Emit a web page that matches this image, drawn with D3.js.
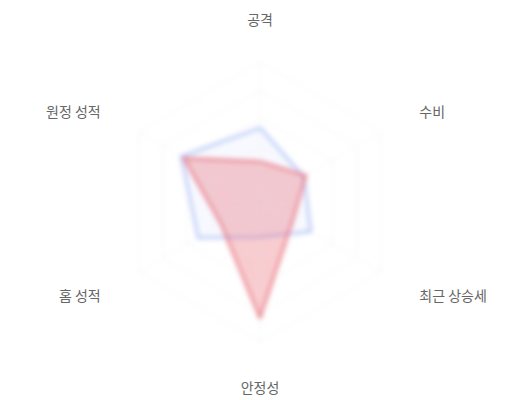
<!DOCTYPE html>
<html>
<head>
<meta charset="utf-8">
<script src="https://cdn.jsdelivr.net/npm/d3@7"></script>
<style>
  body { margin: 0; background: #fff; }
  svg { display: block; }
</style>
</head>
<body>
<svg id="chart" width="520" height="400"></svg>
<script>
// axes, clockwise from the top
const axes = ["공격", "수비", "최근 상승세", "안정성", "홈 성적", "원정 성적"];
const blueValues = [53, 36, 42, 25, 51, 65];
const redValues = [29, 38, 27, 83, 32, 63];
const levels = [20, 40, 60, 80, 100];

function drawRadar() {
    const svg = d3.select("#chart");
    const cx = 260, cy = 202, R = 140, labelR = 184;

    const r = d3.scaleLinear().domain([0, 100]).range([0, R]);
    const angle = d3.scaleLinear().domain([0, axes.length]).range([0, 2 * Math.PI]);

    // the marks in the picture look soft, so blur them a little
    svg.append("defs")
        .append("filter")
        .attr("id", "soft")
        .attr("x", "-20%").attr("y", "-20%")
        .attr("width", "140%").attr("height", "140%")
        .append("feGaussianBlur")
        .attr("stdDeviation", 2.4);

    const g = svg.append("g").attr("transform", `translate(${cx}, ${cy})`);
    const plot = g.append("g").attr("filter", "url(#soft)");

    const radial = d3.lineRadial()
        .angle((d, i) => angle(i))
        .radius((d) => r(d))
        .curve(d3.curveLinearClosed);

    // grid rings
    plot.selectAll(".ring")
        .data(levels)
        .join("path")
        .attr("class", "ring")
        .attr("fill", "none")
        .attr("stroke", "#e6e8ef")
        .attr("stroke-width", 1)
        .attr("stroke-dasharray", "3,3")
        .attr("d", (lv) => radial(axes.map(() => lv)));

    // spokes
    plot.selectAll(".spoke")
        .data(axes)
        .join("line")
        .attr("class", "spoke")
        .attr("x1", 0).attr("y1", 0)
        .attr("x2", (d, i) => r(100) * Math.sin(angle(i)))
        .attr("y2", (d, i) => -r(100) * Math.cos(angle(i)))
        .attr("stroke", "#eceef3")
        .attr("stroke-width", 1)
        .attr("stroke-dasharray", "3,3");

    const series = [
        {name: "blue", values: blueValues, stroke: "#8aa6f2", fill: "rgba(127,157,240,0.06)", sOp: 0.55},
        {name: "red", values: redValues, stroke: "#e66a75", fill: "rgba(232,96,110,0.32)", sOp: 0.7}
    ];

    plot.selectAll(".area")
        .data(series)
        .join("path")
        .attr("class", "area")
        .attr("fill", (d) => d.fill)
        .attr("stroke", (d) => d.stroke)
        .attr("stroke-opacity", (d) => d.sOp)
        .attr("stroke-width", 3)
        .attr("stroke-linejoin", "round")
        .attr("d", (d) => radial(d.values));

    // axis labels
    g.selectAll(".label")
        .data(axes)
        .join("text")
        .attr("class", "label")
        .attr("x", (d, i) => labelR * Math.sin(angle(i)))
        .attr("y", (d, i) => -labelR * Math.cos(angle(i)))
        .attr("dy", "0.5em")
        .attr("text-anchor", (d, i) => {
            const s = Math.sin(angle(i));
            if (Math.abs(s) < 0.01) return "middle";
            return s > 0 ? "start" : "end";
        })
        .attr("font-family", "'Noto Sans CJK KR', 'Noto Sans', sans-serif")
        .attr("font-size", "14px")
        .attr("fill", "#666")
        .text((d) => d);
}

drawRadar();
</script>
</body>
</html>
